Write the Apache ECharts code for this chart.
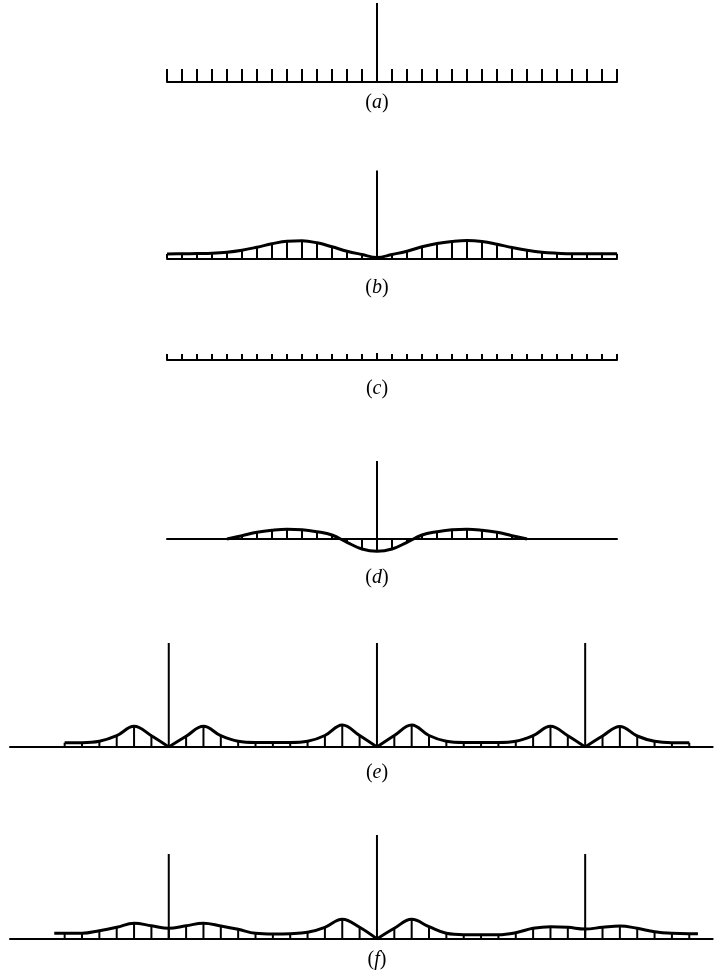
<!DOCTYPE html>
<html>
<head>
<meta charset="utf-8">
<title>sampling</title>
<script src="https://cdn.jsdelivr.net/npm/echarts@6/dist/echarts.min.js"></script>
<style>
    html, body { margin: 0; padding: 0; background: #fff; }
    #main { width: 727px; height: 980px; }
</style>
</head>
<body>
<div id="main"></div>
<script>
// positions in sample steps, 0 = the centre spike
var kNarrow = [-14, -13, -12, -11, -10, -9, -8, -7, -6, -5, -4, -3, -2, -1, 0,
               1, 2, 3, 4, 5, 6, 7, 8, 9, 10, 11, 12, 13, 14, 15, 16];
var kWide = [-18, -17, -16, -15, -14, -13, -12, -11, -10, -9, -8, -7, -6, -5, -4, -3, -2, -1, 0,
             1, 2, 3, 4, 5, 6, 7, 8, 9, 10, 11, 12, 13, 14, 15, 16, 17, 18];

// (a) comb + spike
var combA = [13, 13, 13, 13, 13, 13, 13, 13, 13, 13, 13, 13, 13, 13, 13,
             13, 13, 13, 13, 13, 13, 13, 13, 13, 13, 13, 13, 13, 13, 13, 13];
var spikeA = [[0, 79]];

// (b) envelope sampled at kNarrow
var envB = [4.5, 4.7, 5, 5.3, 6.3, 8.3, 11.3, 14.7, 17.3, 17.7, 15.7, 11.7, 7.3, 4, 1,
            4, 7.3, 11.7, 15, 17, 18, 17, 14.3, 11, 8.3, 6.3, 5.3, 4.7, 4.7, 4.7, 4.7];
var spikeB = [[0, 88]];

// (c) short comb
var combC = [6, 6, 6, 6, 6, 6, 6, 6, 6, 6, 6, 6, 6, 6, 7,
             6, 6, 6, 6, 6, 6, 6, 6, 6, 6, 6, 6, 6, 6, 6, 6];

// (d)
var envDx = [-10, -9, -8, -7, -6, -5, -4, -3, -2, -1, 0, 1, 2, 3, 4, 5, 6, 7, 8, 9, 10];
var envD = [0, 3.3, 6.7, 8.7, 9.7, 9.3, 7.3, 4, -3.3, -10, -12.3, -10, -3.3, 4, 7.3, 9.3, 9.7, 8.7, 6.7, 3.3, 0];
var spikeD = [[0, 78]];

// (e) envelope sampled at kWide
var envE = [4.3, 4.3, 5.7, 11.3, 20.7, 11.3, 0, 10.7, 20.7, 11.3, 5.7, 4.5, 4.5, 4.5, 5.7, 11.5, 22, 11.5, 0,
            11.5, 22, 11.5, 5.7, 4.5, 4.5, 4.5, 5.7, 11.3, 20.7, 11.3, 0, 11, 20.5, 11, 5.7, 4.3, 4.3];
var spikeE = [[-12, 104], [0, 104], [12, 104]];
var cuspE = [-12, 0, 12];

// (f)
var envFx = [-18.6, -18, -17, -16, -15, -14, -13, -12, -11, -10, -9, -8, -7, -6, -5, -4, -3, -2, -1, 0,
             1, 2, 3, 4, 5, 6, 7, 8, 9, 10, 11, 12, 13, 14, 15, 16, 17, 18, 18.5];
var envF = [5.7, 5.7, 5.7, 8.3, 11.7, 15.7, 13.3, 10.7, 13.3, 15.7, 13, 9.7, 5.7, 5, 5.3, 6.7, 11.7, 19.7, 11.7, 0,
            10.7, 19.7, 12.3, 5.7, 4.3, 4.3, 4.3, 6.3, 10.7, 12.3, 11.7, 10, 11.7, 13, 10.7, 7.3, 5.7, 5.3, 5.3];
var spikeF = [[-12, 85], [0, 104], [12, 85]];
var cuspF = [0];

var labels = ['a', 'b', 'c', 'd', 'e', 'f'];
var labelY = [103, 288, 389, 578, 773, 960];

var myChart = echarts.init(document.getElementById('main'));

function zip(xs, ys) {
    var out = [];
    for (var i = 0; i < xs.length; i++) out.push([xs[i], ys[i]]);
    return out;
}

// break the envelope at sharp (V shaped) points so the smoothing keeps the cusp
function splitAt(pts, cusps) {
    var segs = [[]];
    for (var i = 0; i < pts.length; i++) {
        segs[segs.length - 1].push(pts[i]);
        if (cusps.indexOf(pts[i][0]) >= 0 && i > 0 && i < pts.length - 1) {
            segs.push([pts[i]]);
        }
    }
    return segs;
}

function stickItem(params, api) {
    var x = api.value(0), y = api.value(1);
    var p0 = api.coord([x, 0]);
    var p1 = api.coord([x, y]);
    return {
        type: 'line',
        shape: { x1: p0[0], y1: p0[1], x2: p1[0], y2: p1[1] },
        style: { stroke: '#000', lineWidth: 2 }
    };
}

// layout of the six strips (pixels)
var grids = [
    { left: 167, width: 450, top: 2,     height: 80 },
    { left: 167, width: 450, top: 168.5, height: 90 },
    { left: 167, width: 450, top: 350,   height: 10 },
    { left: 167, width: 450, top: 454,   height: 100 },
    { left: 10,  width: 702.7, top: 641, height: 106 },
    { left: 10,  width: 702.7, top: 833, height: 106 }
];
var xRange = [[-14, 16], [-14, 16], [-14, 16], [-14, 16], [-21.15, 19.35], [-21.15, 19.35]];
var yRange = [[0, 80], [0, 90], [0, 10], [-15, 85], [0, 106], [0, 106]];

var xAxes = [], yAxes = [];
for (var g = 0; g < 6; g++) {
    xAxes.push({
        gridIndex: g, type: 'value', min: xRange[g][0], max: xRange[g][1],
        axisLine: { show: true, onZero: true, lineStyle: { color: '#000', width: 2 } },
        axisTick: { show: false }, axisLabel: { show: false }, splitLine: { show: false }
    });
    yAxes.push({
        gridIndex: g, type: 'value', min: yRange[g][0], max: yRange[g][1], show: false,
        splitLine: { show: false }
    });
}

var series = [];
function addSticks(g, data) {
    series.push({ type: 'custom', xAxisIndex: g, yAxisIndex: g, renderItem: stickItem, data: data, clip: false, z: 3 });
}
function addEnvelope(g, segs) {
    segs.forEach(function (s) {
        series.push({
            type: 'line', xAxisIndex: g, yAxisIndex: g, data: s, smooth: 0.4,
            showSymbol: false, lineStyle: { color: '#000', width: 3 }, z: 4
        });
    });
}

addSticks(0, zip(kNarrow, combA));
addSticks(0, spikeA);

addSticks(1, zip(kNarrow, envB));
addSticks(1, spikeB);
addEnvelope(1, [zip(kNarrow, envB)]);

addSticks(2, zip(kNarrow, combC));

addSticks(3, zip(envDx, envD));
addSticks(3, spikeD);
addEnvelope(3, [zip(envDx, envD)]);

addSticks(4, zip(kWide, envE));
addSticks(4, spikeE);
addEnvelope(4, splitAt(zip(kWide, envE), cuspE));

addSticks(5, zip(envFx, envF).filter(function (p) { return p[0] % 1 === 0; }));
addSticks(5, spikeF);
addEnvelope(5, splitAt(zip(envFx, envF), cuspF));

var textRich = {
    p: { fontFamily: 'Liberation Serif', fontSize: 20, fill: '#000' },
    i: { fontFamily: 'Liberation Serif', fontSize: 20, fontStyle: 'italic', fill: '#000' }
};

option = {
    animation: false,
    backgroundColor: '#fff',
    grid: grids,
    xAxis: xAxes,
    yAxis: yAxes,
    series: series,
    graphic: labels.map(function (t, i) {
        return {
            type: 'text', x: 377, y: labelY[i],
            style: {
                text: '{p|(}{i|' + t + '}{p|)}',
                align: 'center', verticalAlign: 'middle',
                textAlign: 'center', textVerticalAlign: 'middle',
                rich: textRich
            }
        };
    })
};

myChart.setOption(option);
</script>
</body>
</html>
